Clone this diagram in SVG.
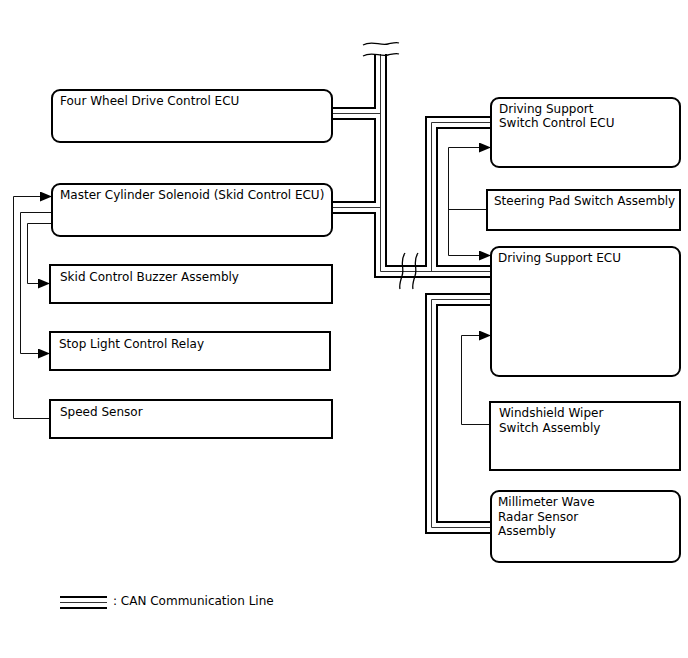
<svg xmlns="http://www.w3.org/2000/svg" width="688" height="658" viewBox="0 0 688 658">
<defs>
<marker id="arr" viewBox="0 0 12 10" refX="12" refY="5" markerWidth="12" markerHeight="10" markerUnits="userSpaceOnUse" orient="auto">
<path d="M0,0 L12,5 L0,10 Z" fill="#000"/>
</marker>
<style>
text{font-family:"DejaVu Sans",Verdana,sans-serif;font-size:12px;fill:#000}
.box{fill:#fff;stroke:#000;stroke-width:2}
.ln{fill:none;stroke:#111;stroke-width:1}
.ar{fill:none;stroke:#111;stroke-width:1;marker-end:url(#arr)}
.bk{fill:none;stroke:#000;stroke-width:13;stroke-linejoin:miter}
.wh{fill:none;stroke:#fff;stroke-width:9;stroke-linejoin:miter}
.md{fill:none;stroke:#333;stroke-width:1;stroke-linejoin:miter}
.wv{fill:none;stroke:#000;stroke-width:1.3}
</style>
</defs>
<rect width="688" height="658" fill="#fff"/>
<g id="connectors">
<g id="can-bus">
<path class="bk" d="M332,113.5 H380.5"/>
<path class="bk" d="M332,207.5 H380.5"/>
<path class="bk" d="M380.5,54 V271.5 H491"/>
<path class="bk" d="M431.5,271.5 V122.5 H491"/>
<path class="bk" d="M491,299.5 H431.5 V527.5 H491"/>
<path class="wh" d="M332,113.5 H380.5"/>
<path class="wh" d="M332,207.5 H380.5"/>
<path class="wh" d="M380.5,54 V271.5 H491"/>
<path class="wh" d="M431.5,271.5 V122.5 H491"/>
<path class="wh" d="M491,299.5 H431.5 V527.5 H491"/>
<path class="md" d="M332,113.5 H380.5"/>
<path class="md" d="M332,207.5 H380.5"/>
<path class="md" d="M380.5,54 V271.5 H491"/>
<path class="md" d="M431.5,271.5 V122.5 H491"/>
<path class="md" d="M491,299.5 H431.5 V527.5 H491"/>
<path class="wv" d="M363,45 C372,40 380,46 388,44 C393,43 396,42 399,43"/>
<path class="wv" d="M363,56 C372,51 380,57 388,55 C393,54 396,53 399,54"/>
<path class="wv" d="M405,253 C399,262 405,268 402,276 C400,282 399,285 400,289"/>
<path class="wv" d="M418,253 C412,262 418,268 415,276 C413,282 412,285 413,289"/>
</g>
<path class="ar" d="M50,418.5 H13.5 V196.5 H52"/>
<path class="ar" d="M52,212.5 H20.5 V353.5 H50"/>
<path class="ar" d="M52,223.5 H27.5 V283.5 H50"/>
<path class="ln" d="M487,209.5 H448.5"/>
<path class="ar" d="M448.5,255.5 V147.5 H491"/>
<path class="ar" d="M448.5,255.5 H491"/>
<path class="ar" d="M490,424.5 H461.5 V335.5 H491"/>
</g>
<g id="four-wheel-drive-ecu">
<rect class="box" x="52" y="90" width="280" height="52" rx="8"/>
<text x="60" y="105">Four Wheel Drive Control ECU</text>
</g>
<g id="master-cylinder-solenoid">
<rect class="box" x="52" y="184" width="280" height="52" rx="8"/>
<text x="60" y="199">Master Cylinder Solenoid (Skid Control ECU)</text>
</g>
<g id="skid-control-buzzer">
<rect class="box" x="50" y="265" width="282" height="38"/>
<text x="60" y="281">Skid Control Buzzer Assembly</text>
</g>
<g id="stop-light-relay">
<rect class="box" x="50" y="332" width="280" height="38"/>
<text x="59" y="348">Stop Light Control Relay</text>
</g>
<g id="speed-sensor">
<rect class="box" x="50" y="400" width="282" height="38"/>
<text x="60" y="416">Speed Sensor</text>
</g>
<g id="driving-support-switch-ecu">
<rect class="box" x="491" y="98" width="189" height="69" rx="8"/>
<text x="499" y="113">Driving Support</text>
<text x="499" y="127">Switch Control ECU</text>
</g>
<g id="steering-pad-switch">
<rect class="box" x="487" y="190" width="193" height="40"/>
<text x="494" y="205">Steering Pad Switch Assembly</text>
</g>
<g id="driving-support-ecu">
<rect class="box" x="491" y="247" width="189" height="129" rx="8"/>
<text x="498" y="262">Driving Support ECU</text>
</g>
<g id="windshield-wiper-switch">
<rect class="box" x="490" y="402" width="190" height="68"/>
<text x="499" y="417">Windshield Wiper</text>
<text x="499" y="432">Switch Assembly</text>
</g>
<g id="millimeter-wave-radar">
<rect class="box" x="491" y="491" width="189" height="71" rx="8"/>
<text x="498" y="506">Millimeter Wave</text>
<text x="498" y="521">Radar Sensor</text>
<text x="498" y="535">Assembly</text>
</g>
<g id="legend">
<line x1="60" y1="597" x2="107" y2="597" stroke="#000" stroke-width="2"/>
<line x1="60" y1="602.5" x2="107" y2="602.5" stroke="#333" stroke-width="1"/>
<line x1="60" y1="608" x2="107" y2="608" stroke="#000" stroke-width="2"/>
<text x="113" y="605">: CAN Communication Line</text>
</g>
</svg>
